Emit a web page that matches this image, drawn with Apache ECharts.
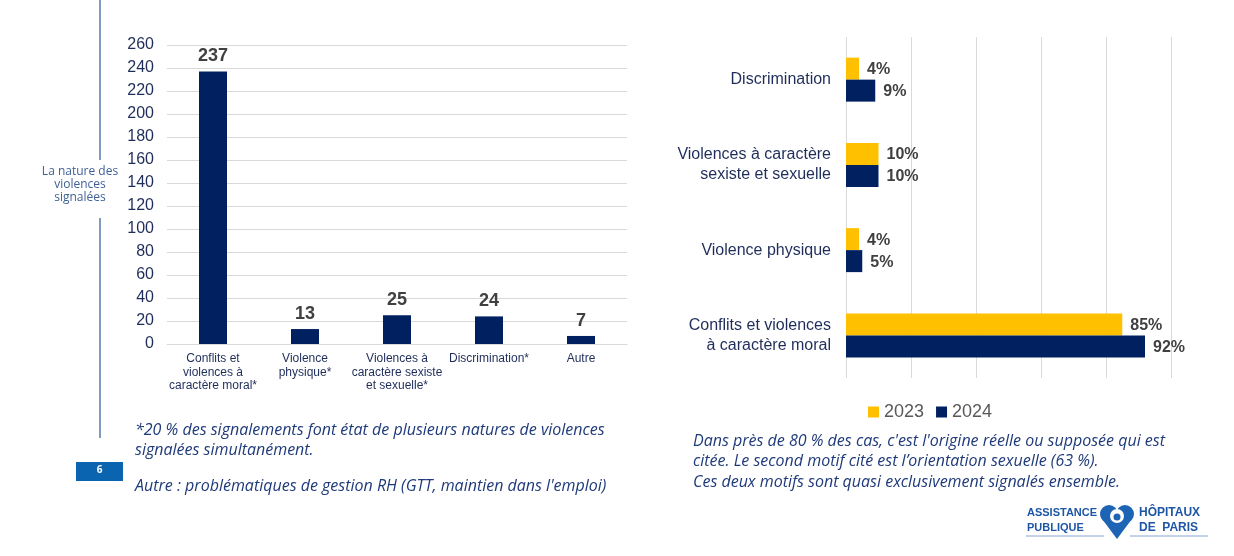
<!DOCTYPE html>
<html>
<head>
<meta charset="utf-8">
<script src="https://cdn.jsdelivr.net/npm/echarts@6/dist/echarts.min.js"></script>
<style>
html,body{margin:0;padding:0;background:#fff;}
#chart{width:1234px;height:556px;}
</style>
</head>
<body>
<div id="chart"></div>
<script>
// Left chart data
const leftCategories = ["Conflits et\nviolences à\ncaractère moral*", "Violence\nphysique*", "Violences à\ncaractère sexiste\net sexuelle*", "Discrimination*", "Autre"];
const leftValues = [237, 13, 25, 24, 7];
const leftTicks = {min: 0, max: 260, interval: 20};

// Right chart data (top to bottom)
const rightCategories = ["Discrimination", "Violences à caractère\nsexiste et sexuelle", "Violence physique", "Conflits et violences\nà caractère moral"];
const values2023 = [4, 10, 4, 85];
const values2024 = [9, 10, 5, 92];
const seriesNames = ["2023", "2024"];

const NAVY = '#002060';
const YELLOW = '#ffc000';
const LABEL = '#1f2d5a';
const FONT = '"Liberation Sans", Arial, sans-serif';
const NOTE_FONT = '"Open Sans", "Noto Sans", sans-serif';

const chart = echarts.init(document.getElementById('chart'));

const option = {
  animation: false,
  textStyle: {fontFamily: FONT},
  legend: {
    data: seriesNames,
    left: 863, top: 398,
    itemWidth: 11, itemHeight: 11, itemGap: 12,
    icon: 'rect',
    textStyle: {fontSize: 18, color: '#595959', fontFamily: FONT}
  },
  grid: [
    {left: 167, right: 607, top: 45, bottom: 212, containLabel: false},
    {left: 846, right: 63, top: 37, bottom: 178, containLabel: false}
  ],
  xAxis: [
    {
      gridIndex: 0, type: 'category', data: leftCategories,
      axisTick: {show: false},
      axisLine: {show: true, lineStyle: {color: '#d9d9d9'}},
      axisLabel: {color: LABEL, fontSize: 12, lineHeight: 13.5, margin: 8, interval: 0, fontFamily: FONT}
    },
    {
      gridIndex: 1, type: 'value', min: 0, max: 100, interval: 20,
      axisLabel: {show: false}, axisTick: {show: false}, axisLine: {show: false},
      splitLine: {show: true, lineStyle: {color: '#d9d9d9'}}
    }
  ],
  yAxis: [
    {
      gridIndex: 0, type: 'value', min: leftTicks.min, max: leftTicks.max, interval: leftTicks.interval,
      axisLabel: {color: LABEL, fontSize: 16, margin: 13, fontFamily: FONT},
      axisLine: {show: false}, axisTick: {show: false},
      splitLine: {lineStyle: {color: '#d9d9d9'}}
    },
    {
      gridIndex: 1, type: 'category', data: rightCategories, inverse: true,
      axisLine: {show: false}, axisTick: {show: false},
      axisLabel: {color: LABEL, fontSize: 16, lineHeight: 20, margin: 15, fontFamily: FONT}
    }
  ],
  series: [
    {
      type: 'bar', xAxisIndex: 0, yAxisIndex: 0, data: leftValues,
      barWidth: 28,
      itemStyle: {color: NAVY},
      label: {show: true, position: 'top', distance: 6, color: '#404040', fontWeight: 'bold', fontSize: 18, fontFamily: FONT}
    },
    {
      name: seriesNames[0], type: 'bar', xAxisIndex: 1, yAxisIndex: 1, data: values2023,
      barWidth: 22, barGap: '0%',
      itemStyle: {color: YELLOW},
      label: {show: true, position: 'right', distance: 8, offset: [0, 1], formatter: '{c}%', color: '#404040', fontWeight: 'bold', fontSize: 16, fontFamily: FONT}
    },
    {
      name: seriesNames[1], type: 'bar', xAxisIndex: 1, yAxisIndex: 1, data: values2024,
      barWidth: 22, barGap: '0%',
      itemStyle: {color: NAVY},
      label: {show: true, position: 'right', distance: 8, offset: [0, 1], formatter: '{c}%', color: '#404040', fontWeight: 'bold', fontSize: 16, fontFamily: FONT}
    }
  ],
  graphic: [
    // left vertical rule
    {type: 'line', shape: {x1: 100, y1: 0, x2: 100, y2: 160}, style: {stroke: '#7f9cc0', lineWidth: 2}},
    {type: 'line', shape: {x1: 100, y1: 218, x2: 100, y2: 438}, style: {stroke: '#7f9cc0', lineWidth: 2}},
    {type: 'text', x: 80, y: 165, style: {
      text: 'La nature des\nviolences\nsignalées', fill: '#3f5f96', fontSize: 12, lineHeight: 13,
      align: 'center', fontFamily: NOTE_FONT}},
    // page number box
    {type: 'rect', shape: {x: 76, y: 462, width: 47, height: 19}, style: {fill: '#0a64b0'}},
    {type: 'text', x: 99.5, y: 465, style: {text: '6', fill: '#fff', fontSize: 10, fontWeight: 'bold', align: 'center', fontFamily: NOTE_FONT}},
    // left notes
    {type: 'text', x: 135, y: 420, style: {
      text: '*20 % des signalements font état de plusieurs natures de violences\nsignalées simultanément.',
      fill: '#1f3a7a', fontSize: 16, lineHeight: 20, fontStyle: 'italic', fontFamily: NOTE_FONT}},
    {type: 'text', x: 135, y: 478, style: {
      text: "Autre : problématiques de gestion RH (GTT, maintien dans l'emploi)",
      fill: '#1f3a7a', fontSize: 16, fontStyle: 'italic', fontFamily: NOTE_FONT}},
    // right notes
    {type: 'text', x: 693, y: 431, style: {
      text: "Dans près de 80 % des cas, c'est l'origine réelle ou supposée qui est\ncitée. Le second motif cité est l’orientation sexuelle (63 %).\nCes deux motifs sont quasi exclusivement signalés ensemble.",
      fill: '#1f3a7a', fontSize: 16, lineHeight: 20.5, fontStyle: 'italic', fontFamily: NOTE_FONT}},
    // logo
    {type: 'text', x: 1027, y: 505, style: {text: 'ASSISTANCE\nPUBLIQUE', fill: '#1e56a6', fontSize: 11, lineHeight: 15, fontWeight: 'bold', fontFamily: '"Liberation Sans Narrow", "Liberation Sans", sans-serif'}},
    {type: 'text', x: 1139, y: 505, style: {text: 'HÔPITAUX\nDE  PARIS', fill: '#1e56a6', fontSize: 12, lineHeight: 15, fontWeight: 'bold', fontFamily: '"Liberation Sans", sans-serif'}},
    {type: 'circle', shape: {cx: 1109, cy: 514, r: 9}, style: {fill: '#1e64b4'}},
    {type: 'circle', shape: {cx: 1125, cy: 514, r: 9}, style: {fill: '#1e64b4'}},
    {type: 'polygon', shape: {points: [[1100.6, 517], [1133.4, 517], [1117, 539]]}, style: {fill: '#1e64b4'}},
    {type: 'circle', shape: {cx: 1117, cy: 516, r: 7}, style: {fill: '#fff'}},
    {type: 'circle', shape: {cx: 1117, cy: 517, r: 3.5}, style: {fill: '#1e64b4'}},
    {type: 'line', shape: {x1: 1026, y1: 536, x2: 1104, y2: 536}, style: {stroke: '#8aa6d0', lineWidth: 1}},
    {type: 'line', shape: {x1: 1130, y1: 536, x2: 1208, y2: 536}, style: {stroke: '#8aa6d0', lineWidth: 1}}
  ]
};
chart.setOption(option);
</script>
</body>
</html>
